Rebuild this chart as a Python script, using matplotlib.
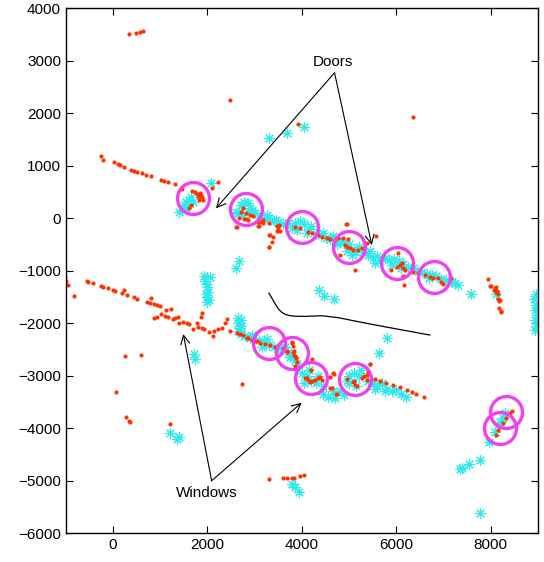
import numpy as np
import matplotlib
matplotlib.use("Agg")
import matplotlib.pyplot as plt

plt.rcParams['font.family'] = ['Liberation Sans', 'DejaVu Sans']

## red dots (x, y) ##
red_x = [340, 480, 570, 630, 2480, 3920, 6360,
         -260, -218, 21, 112, 155, 233, 374, 444, 515, 607, 698, 797, 1016, 1086, 1164, 1305, 1467,
         1665, 1728, 1770, 1800, 1830, 1860, 1890, 1910, 1820, 1850, 1615, 1644, 2215, 2088,
         2702, 2758, 2814, 2899, 2969, 2673, 2772, 2829, 2617, 2863, 3075, 3181, 3308, 3308, 3308, 3082,
         3111, 3167, 3075, 2603, 3322, 3379, 3358, 3308, 3498, 3470, 3530, 3480, 3520,
         3851, 3957, 4133, 4204, 4344, 4416, 4522, 4592, 4698, 4768, 4874, 4945, 4909, 4945, 5015, 5085,
         5191, 5262, 5381, 5565, 5121, 4803, 4930, 4972,
         6037, 5897, 6003, 6073, 6109, 6143, 6179, 6143, 6164, 6354, 6460, 6602, 6708, 6778, 6884, 6955,
         6990, 7167,
         7941, 7992, 8062, 8119, 8104, 8153, 8189, 8175, 8225, 7998, 8090, 8125, 8161, 8182, 8216,
         -1016, -995, -946, -819, -557, -522, -430, -260, -205, -112, -6, 42, 184, 233, 290, 444, 515,
         726, 804, 783, 874, 925, 994, 1122, 1227, 868, 925, 1016, 1100, 1170, 1263, 1312, 1369, 1403,
         1475, 1559, 1615, 1699, 1784, 1877, 1856, 1805, 1877, 1926, 2038, 2110, 2144, 2228, 2300, 2370,
         2406, 2476, 2618, 2687, 2757, 2863, 2935, 3053,
         254, 586, 57, 2723, 275, 339, 367, 1213,
         3308, 3604, 3675, 3794, 3837, 3957, 4048,
         2829, 3005, 3111, 3216, 3322, 3428, 3604, 3675, 3781, 3802, 3816, 3837, 3872, 3887, 3851,
         3788, 3823, 3844, 3682,
         4190, 4063, 4133, 4204, 4274, 4344, 4380, 4416, 4169, 4592, 4662, 4627, 4733, 4105, 4211,
         4598, 4670, 4719,
         4945, 5085, 5121, 5156, 5262, 5311, 5368, 5402, 5452, 5368, 5093, 5444,
         5544, 5650, 5791, 5931, 6073, 6215, 6321, 6426, 6588,
         8104, 8153, 8259, 8316, 8401, 8458]
red_y = [3500, 3530, 3550, 3560, 2250, 1790, 1920,
         1175, 1105, 1061, 1029, 1003, 966, 921, 895, 876, 851, 825, 800, 724, 699, 680, 642, 558,
         514, 490, 460, 420, 380, 440, 400, 350, 340, 470, 185, 248, 686, 578,
         120, 184, 89, 57, 38, -6, -25, -13, -165, -38, -70, -38, -101, -324, -546, -146,
         -70, -101, -152, -178, -324, -368, -457, -546, -196, -150, -240, -250, -140,
         -165, -197, -260, -292, -324, -356, -387, -406, -419, -387, -387, -114, -514, -546, -578, -610,
         -610, -578, -483, -343, -991, -705, -114, -406,
         -673, -991, -927, -895, -864, -959, -991, -1105, -1276, -1022, -1041, -1086, -1118, -1149, -1149, -1213,
         -1257, -1149,
         -1168, -1289, -1372, -1321, -1404, -1549, -1562, -1709, -1785, -1295, -1327, -1391, -1454, -1581, -1772,
         -1118, -1200, -1276, -1486, -1194, -1213, -1232, -1295, -1308, -1340, -1372, -1384, -1435, -1372, -1461, -1511, -1543,
         -1606, -1524, -1625, -1644, -1663, -1676, -1759, -1728, -1899, -1880, -1829, -1861, -1880, -1930, -1899, -1893, -2006,
         -1975, -1994, -2025, -2120, -1994, -1816, -1892, -2082, -2101, -2109, -2166, -2248, -2153, -2120, -2101, -2006,
         -1930, -2147, -2196, -2210, -2223, -2292, -2324, -2337,
         -2629, -2610, -3309, -3168, -3785, -3861, -3892, -3924,
         -4966, -4953, -4953, -4953, -4947, -4915, -4896,
         -2292, -2343, -2375, -2400, -2419, -2452, -2483, -2547, -2356, -2438, -2547, -2610, -2673, -2737, -2819,
         -2375, -2534, -2629, -2534,
         -2896, -3054, -3086, -3099, -3086, -3054, -3023, -3086, -3118, -3023, -2958, -3244, -3353, -3042, -2692,
         -3232, -2977, -3359,
         -3073, -3118, -3181, -3200, -3054, -3010, -2991, -2928, -2781, -3086, -3105, -2788,
         -3073, -3099, -3149, -3181, -3225, -3277, -3309, -3353, -3416,
         -4134, -4039, -3911, -3816, -3721, -3670]

## cyan asterisks (x, y) ##
cyan_x = [3301, 3675, 4048, 2074,
          1450, 1500, 1550, 1600, 1650, 1700, 1550, 1400,
          2700, 2780, 2850, 2900, 2950, 2650, 2750, 2880, 3000, 2600,
          3100, 3200, 3300, 3400, 3500, 3600, 3700, 3250, 3450,
          3850, 3950, 4050, 4150, 3900, 4100, 3800, 4200,
          4300, 4400, 4500, 4600, 4700, 4800, 4450, 4650, 4750,
          4900, 5000, 5100, 5150, 4950, 5050, 5200,
          5300, 5400, 5500, 5600, 5650, 5450, 5550,
          5750, 5850, 5950, 6050, 6150, 5900, 6100, 6250, 6350,
          6450, 6550, 6650, 6750, 6850, 6950, 6700, 7050, 7150, 7250, 7300,
          7590, 8104,
          2603, 2673, 4352, 4458, 4670,
          1920, 2050, 1950, 2000, 1980, 2020, 1960, 2000, 2040, 1990,
          1720, 1735,
          2650, 2700, 2650, 2700, 2680, 2650,
          2700, 2800, 2900, 2950,
          3100, 3200, 3300, 3400, 3500, 3250, 3150,
          3600, 3700, 3800, 3850, 3750, 3900, 3650,
          4000, 4100, 4200, 4300, 4050, 4150, 4350, 4450,
          4450, 4550, 4650, 4700, 4900, 4800,
          5000, 5100, 5200, 5250, 5000, 5150, 4950,
          5400, 5500, 5600, 5700, 5800, 5900, 6000, 6100, 6200, 5550, 5750,
          5798, 5635,
          8950, 8920, 8960, 8930, 8970, 8940, 8960, 8930,
          1206, 1361, 1400, 3794, 3942, 3860,
          7963, 7766, 7539, 7343, 7380, 7773,
          8083, 8150, 8295, 8250, 8200]
cyan_y = [1518, 1625, 1728, 661,
          150, 250, 300, 350, 400, 300, 200, 120,
          250, 300, 280, 200, 150, 100, 60, 120, 100, 120,
          20, -20, 0, -60, -80, -120, -100, 60, -30,
          -100, -60, -120, -200, -220, -280, -180, -150,
          -300, -330, -380, -400, -430, -460, -280, -350, -500,
          -450, -500, -580, -650, -620, -700, -560,
          -640, -700, -760, -720, -820, -620, -850,
          -760, -800, -780, -820, -880, -900, -950, -940, -960,
          -1000, -1020, -1060, -1080, -1100, -1160, -1150, -1180, -1220, -1230, -1270,
          -1448, -1448,
          -959, -819, -1378, -1486, -1549,
          -1100, -1120, -1200, -1250, -1320, -1400, -1450, -1500, -1560, -1600,
          -2597, -2692,
          -1900, -1950, -2000, -2050, -2100, -2150,
          -2200, -2250, -2280, -2230,
          -2330, -2360, -2420, -2450, -2480, -2300, -2450,
          -2500, -2550, -2600, -2700, -2650, -2800, -2450,
          -2950, -3000, -3100, -3150, -3150, -2900, -3000, -3200,
          -3350, -3400, -3300, -3420, -3380, -3300,
          -3000, -2950, -3000, -2900, -3150, -3200, -3100,
          -3100, -3150, -3200, -3150, -3250, -3300, -3280, -3350, -3400, -3250, -3300,
          -2292, -2566,
          -1450, -1550, -1650, -1750, -1850, -1950, -2050, -2130,
          -4090, -4216, -4180, -5073, -5214, -5130,
          -4261, -4610, -4692, -4788, -4760, -5614,
          -4071, -3950, -3721, -3800, -3880]

## circled detections ##
circ_x = [1686, 2814, 4000, 5000, 6024, 6807, 3301, 3781, 4190, 5121, 8331, 8196]
circ_y = [375, 171, -165, -546, -851, -1130, -2388, -2566, -3054, -3067, -3701, -4006]

## black curve ##
curve_x = [3301, 3360, 3430, 3506, 3580, 3650, 3740, 3850, 4063, 4423, 4776, 5480, 6708]
curve_y = [-1429, -1520, -1630, -1739, -1800, -1835, -1858, -1870, -1873, -1861, -1899, -2025, -2229]

## annotations ##
doors_label = (4649, 2966)
doors_start = (4691, 2768)
doors_tips = [(2180, 185), (5480, -514)]
win_label = (1982, -5233)
win_start = (2088, -5005)
win_tips = [(1488, -2210), (3993, -3518)]

fig = plt.figure(figsize=(5.44, 5.62), dpi=100)
ax = fig.add_axes([0.121, 0.0516, 0.868, 0.934])

ax.plot(cyan_x, cyan_y, linestyle='none', marker=(8, 2, 0), markersize=7.5,
        markeredgewidth=0.8, color='#2eeaea')
ax.plot(red_x, red_y, linestyle='none', marker='o', markersize=3.0,
        markeredgewidth=0, color='#ff3300')
ax.plot(circ_x, circ_y, linestyle='none', marker='o', markersize=23,
        markerfacecolor='none', markeredgewidth=2.4, markeredgecolor='#f040f0')
ax.plot(curve_x, curve_y, color='k', linewidth=0.9)

arrow = dict(arrowstyle='->', color='k', lw=0.8, mutation_scale=16, shrinkA=0, shrinkB=0)
for tip in doors_tips:
    ax.annotate('', xy=tip, xytext=doors_start, arrowprops=arrow)
for tip in win_tips:
    ax.annotate('', xy=tip, xytext=win_start, arrowprops=arrow)
ax.text(*doors_label, 'Doors', ha='center', va='center', fontsize=11)
ax.text(*win_label, 'Windows', ha='center', va='center', fontsize=11)

ax.set_xlim(-1000, 9000)
ax.set_ylim(-6000, 4000)
ax.set_xticks([0, 2000, 4000, 6000, 8000])
ax.set_yticks(np.arange(-6000, 4001, 1000))
ax.tick_params(direction='in', top=True, right=True, length=5, labelsize=11)
for s in ax.spines.values():
    s.set_linewidth(1.0)

fig.savefig('out.png', dpi=100)
